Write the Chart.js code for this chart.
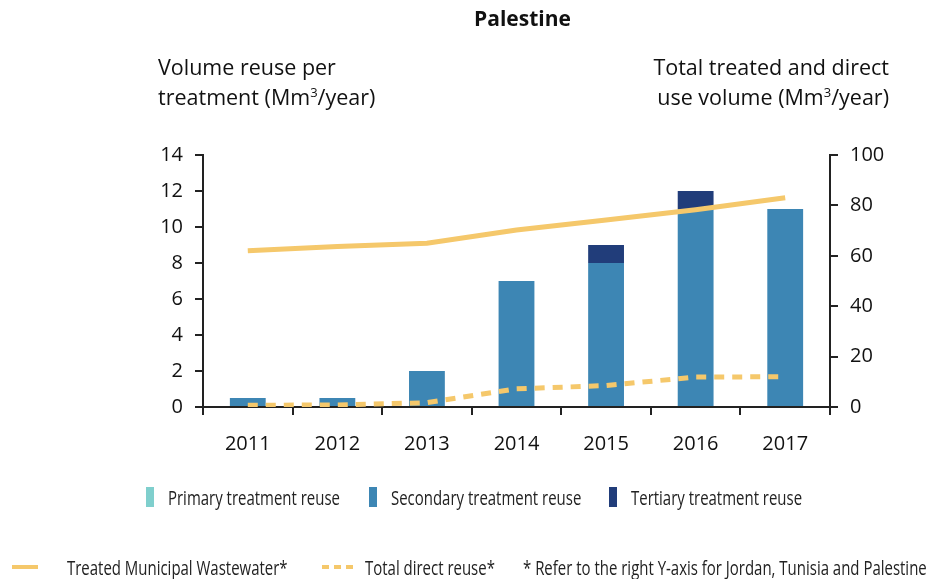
<!DOCTYPE html>
<html>
<head>
<meta charset="utf-8">
<script src="https://cdn.jsdelivr.net/npm/chart.js@4"></script>
<style>
  body { margin: 0; background: #fff; }
  #wrap { position: relative; width: 947px; height: 579px; overflow: hidden; }
  canvas { position: absolute; left: 0; top: 0; }
  .txt { position: absolute; font-family: 'Open Sans', sans-serif; color: #111; white-space: nowrap; }
  .txt sup { font-size: 13px; line-height: 0; vertical-align: 8px; }
  .leg { position: absolute; font-family: 'Open Sans', sans-serif; font-size: 20.5px; color: #222; white-space: nowrap;
         transform: scaleX(0.73); transform-origin: left center; }
  .sq { position: absolute; width: 8px; height: 20px; }
</style>
</head>
<body>
<div id="wrap">
  <canvas id="chart" width="947" height="579"></canvas>
  <div class="txt" style="left:0;width:1045px;text-align:center;top:4px;font-weight:bold;font-size:21px;">Palestine</div>
  <div class="txt" style="left:158px;top:52px;font-size:21.5px;line-height:30px;">Volume reuse per<br>treatment (Mm<sup>3</sup>/year)</div>
  <div class="txt" style="right:58px;top:52px;font-size:21.5px;line-height:30px;text-align:right;">Total treated and direct<br>use volume (Mm<sup>3</sup>/year)</div>

  <div class="sq" style="left:146px;top:487px;background:#7fcfcd;"></div>
  <div class="leg" style="left:168px;top:483px;">Primary treatment reuse</div>
  <div class="sq" style="left:369px;top:487px;background:#3d86b4;"></div>
  <div class="leg" style="left:391px;top:483px;">Secondary treatment reuse</div>
  <div class="sq" style="left:609px;top:487px;background:#213d7a;"></div>
  <div class="leg" style="left:631px;top:483px;">Tertiary treatment reuse</div>

  <div style="position:absolute;left:12px;top:565px;width:26px;height:4px;background:#f5c86b;"></div>
  <div class="leg" style="left:67px;top:553px;">Treated Municipal Wastewater*</div>
  <div style="position:absolute;left:322px;top:565px;width:7px;height:4px;background:#f5c86b;"></div>
  <div style="position:absolute;left:334px;top:565px;width:7px;height:4px;background:#f5c86b;"></div>
  <div style="position:absolute;left:346px;top:565px;width:7px;height:4px;background:#f5c86b;"></div>
  <div class="leg" style="left:365px;top:553px;">Total direct reuse*</div>
  <div class="leg" style="left:523px;top:553px;">* Refer to the right Y-axis for Jordan, Tunisia and Palestine</div>
</div>
<script>
// data
const years = ['2011', '2012', '2013', '2014', '2015', '2016', '2017'];
const primaryReuse = [0, 0, 0, 0, 0, 0, 0];
const secondaryReuse = [0.5, 0.5, 2, 7, 8, 11, 11];
const tertiaryReuse = [0, 0, 0, 0, 1, 1, 0];
const treatedWastewater = [62, 63.7, 65, 70.2, 74.2, 78.3, 83];
const totalDirectReuse = [0.7, 0.8, 1.7, 7.2, 8.5, 11.9, 12];
const leftTicks = [0, 2, 4, 6, 8, 10, 12, 14];
const rightTicks = [0, 20, 40, 60, 80, 100];

const axisColor = '#222';
const tickFont = { family: 'Open Sans', size: 20 };

new Chart(document.getElementById('chart'), {
    type: 'bar',
    data: {
        labels: years,
        datasets: [
            { type: 'line', label: 'Treated Municipal Wastewater*', data: treatedWastewater, yAxisID: 'y2',
              borderColor: '#f5c86b', borderWidth: 5, pointRadius: 0, tension: 0, order: 0 },
            { type: 'line', label: 'Total direct reuse*', data: totalDirectReuse, yAxisID: 'y2',
              borderColor: '#f5c86b', borderWidth: 5, borderDash: [10, 8], pointRadius: 0, tension: 0, order: 0 },
            { label: 'Primary treatment reuse', data: primaryReuse, backgroundColor: '#7fcfcd', order: 1 },
            { label: 'Secondary treatment reuse', data: secondaryReuse, backgroundColor: '#3d86b4', order: 1 },
            { label: 'Tertiary treatment reuse', data: tertiaryReuse, backgroundColor: '#213d7a', order: 1 }
        ]
    },
    options: {
        responsive: false,
        animation: false,
        datasets: { bar: { barPercentage: 0.4, categoryPercentage: 1 } },
        layout: { padding: { left: 143, right: 37, top: 155, bottom: 122 } },
        plugins: { legend: { display: false }, tooltip: { enabled: false } },
        scales: {
            x: {
                stacked: true,
                border: { color: axisColor, width: 2 },
                grid: { offset: true, drawOnChartArea: false, color: axisColor, tickLength: 8, lineWidth: 2 },
                ticks: { color: '#111', font: tickFont, padding: 17 },
                afterFit: s => { s.height = 50; }
            },
            y: {
                stacked: true, min: 0, max: 14,
                afterBuildTicks: s => { s.ticks = leftTicks.map(v => ({ value: v })); },
                border: { color: axisColor, width: 2 },
                grid: { drawOnChartArea: false, color: axisColor, tickLength: 8, lineWidth: 2 },
                ticks: { color: '#111', font: tickFont, padding: 12 },
                afterFit: s => { s.width = 60; }
            },
            y2: {
                position: 'right', min: 0, max: 100,
                afterBuildTicks: s => { s.ticks = rightTicks.map(v => ({ value: v })); },
                border: { color: axisColor, width: 2 },
                grid: { drawOnChartArea: false, color: axisColor, tickLength: 8, lineWidth: 2 },
                ticks: { color: '#111', font: tickFont, padding: 12 },
                afterFit: s => { s.width = 80; }
            }
        }
    }
});
</script>
</body>
</html>
